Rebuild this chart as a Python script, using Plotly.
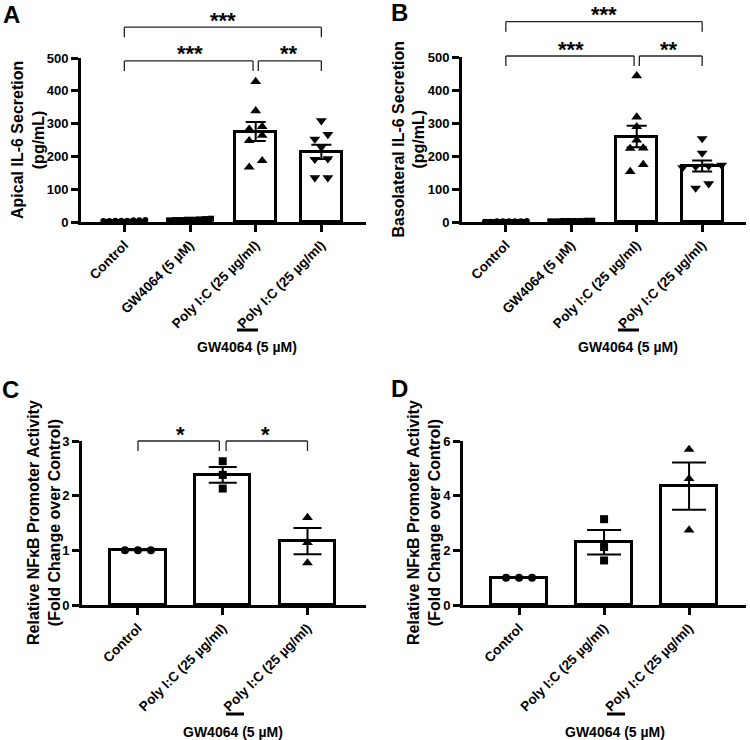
import numpy as np
import plotly.graph_objects as go

W, H = 750, 740
FONT = "Liberation Sans, Arial, Helvetica, sans-serif"

# ---------------- data ----------------
AB_labels = ["Control", "GW4064 (5 µM)", "Poly I:C (25 µg/ml)", "Poly I:C (25 µg/ml)"]
CD_labels = ["Control", "Poly I:C (25 µg/ml)", "Poly I:C (25 µg/ml)"]

A_control = [4, 3, 5, 4, 6, 3, 5, 4]
A_gw = [8, 6, 10, 7, 5, 9, 7, 6]
A_poly = [428, 339, 291, 283, 264, 248, 187, 167]
A_polygw = [309, 267, 253, 228, 193, 191, 135, 135]

B_control = [2, 1, 2, 3, 2, 1, 2, 2]
B_gw = [3, 2, 4, 3, 2, 3, 4, 3]
B_poly = [443, 318, 289, 248, 224, 223, 174, 153]
B_polygw = [253, 209, 172, 170, 168, 165, 116, 103]

C_control = [1.0, 1.0, 1.0]
C_poly = [2.63, 2.38, 2.13]
C_polygw = [1.60, 1.14, 0.77]

D_control = [1.0, 1.0, 1.0]
D_poly = [3.14, 2.12, 1.63]
D_polygw = [5.69, 4.62, 2.74]

A_tests = [(0, 3, "***"), (0, 2, "***"), (2, 3, "**")]
B_tests = [(0, 3, "***"), (0, 2, "***"), (2, 3, "**")]
C_tests = [(0, 1, "*"), (1, 2, "*")]

AB_ticks = [0, 100, 200, 300, 400, 500]
C_ticks = [0, 1, 2, 3]
D_ticks = [0, 2, 4, 6]

# ---------------- layout parameters ----------------
panels = [
    dict(letter="A", letter_xy=(11, 14), groups=[A_control, A_gw, A_poly, A_polygw], labels=AB_labels,
         symbols=["circle", "square", "triangle-up", "triangle-down"], sizes=[6, 6, 9.5, 9.5], steps=[6, 6, 13, 13],
         xpx=(81, 366), ypx=(58, 222), xr=(-0.66, 3.68), ticks=AB_ticks, bar_w=0.63, cap=10,
         title="Apical IL-6 Secretion<br>(pg/mL)", title_x=28,
         tests=A_tests, levels=[594, 491, 491], gwline=(237, 258, 330), gwtext=(247, 347)),
    dict(letter="B", letter_xy=(399, 12), groups=[B_control, B_gw, B_poly, B_polygw], labels=AB_labels,
         symbols=["circle", "square", "triangle-up", "triangle-down"], sizes=[6, 6, 9.5, 9.5], steps=[6, 6, 13, 13],
         xpx=(462, 746), ypx=(57, 222), xr=(-0.67, 3.67), ticks=AB_ticks, bar_w=0.63, cap=10,
         title="Basolateral IL-6 Secretion<br>(pg/mL)", title_x=408,
         tests=B_tests, levels=[607, 503, 503], gwline=(618, 639, 330), gwtext=(628, 347)),
    dict(letter="C", letter_xy=(10, 390), groups=[C_control, C_poly, C_polygw], labels=CD_labels,
         symbols=["circle", "square", "triangle-up"], sizes=[8, 8, 9.5], steps=[13, 13, 13],
         xpx=(82, 366), ypx=(441, 605), xr=(-0.66, 2.69), ticks=C_ticks, bar_w=0.65, cap=14,
         title="Relative NFκB Promoter Activity<br>(Fold Change over Control)", title_x=44,
         tests=C_tests, levels=[3.0, 3.0], gwline=(226, 244, 714), gwtext=(233, 732)),
    dict(letter="D", letter_xy=(399, 389), groups=[D_control, D_poly, D_polygw], labels=CD_labels,
         symbols=["circle", "square", "triangle-up"], sizes=[8, 8, 9.5], steps=[13, 13, 13],
         xpx=(463, 746), ypx=(441, 605), xr=(-0.66, 2.67), ticks=D_ticks, bar_w=0.65, cap=17,
         title="Relative NFκB Promoter Activity<br>(Fold Change over Control)", title_x=424,
         tests=[], levels=[], gwline=(607, 625, 714), gwtext=(615, 732)),
]


def swarm(values, px_per_unit, px_per_cat, step_px, thresh_px=7.5):
    n = len(values)
    order = sorted(range(n), key=lambda i: -values[i])
    rows, cur, ref = [], [order[0]], values[order[0]]
    for i in order[1:]:
        if (ref - values[i]) * px_per_unit < thresh_px:
            cur.append(i)
        else:
            rows.append(cur)
            cur, ref = [i], values[i]
    rows.append(cur)
    off = [0.0] * n
    for row in rows:
        row = sorted(row, key=lambda i: values[i])
        m = len(row)
        for k, i in enumerate(row):
            off[i] = (k - (m - 1) / 2) * step_px / px_per_cat
    return off


fig = go.Figure()
shapes, annotations = [], []
bold = dict(family=FONT, color="black", weight="bold")

for p_i, p in enumerate(panels, start=1):
    xa = "x" if p_i == 1 else f"x{p_i}"
    ya = "y" if p_i == 1 else f"y{p_i}"
    xkey = "xaxis" if p_i == 1 else f"xaxis{p_i}"
    ykey = "yaxis" if p_i == 1 else f"yaxis{p_i}"
    ymax = p["ticks"][-1]
    x0p, x1p = p["xpx"]
    ytp, ybp = p["ypx"]
    px_per_unit = (ybp - ytp) / ymax
    px_per_cat = (x1p - x0p) / (p["xr"][1] - p["xr"][0])

    groups = p["groups"]
    means = [float(np.mean(g)) for g in groups]
    sems = [float(np.std(g, ddof=1) / np.sqrt(len(g))) for g in groups]
    cats = list(range(len(groups)))

    fig.add_trace(go.Bar(
        x=cats, y=means, width=p["bar_w"], xaxis=xa, yaxis=ya,
        marker=dict(color="white", line=dict(color="black", width=3)),
        error_y=dict(type="data", array=sems, visible=True, color="black", thickness=2, width=p["cap"]),
        showlegend=False, hoverinfo="skip"))

    for k, g in enumerate(groups):
        offs = swarm(g, px_per_unit, px_per_cat, p["steps"][k])
        fig.add_trace(go.Scatter(
            x=[k + o for o in offs], y=g, mode="markers", xaxis=xa, yaxis=ya,
            marker=dict(symbol=p["symbols"][k], size=p["sizes"][k], color="black", line=dict(width=0)),
            cliponaxis=False, showlegend=False, hoverinfo="skip"))

    fig.layout[xkey] = dict(
        domain=[x0p / W, x1p / W], range=list(p["xr"]), anchor=ya,
        tickvals=cats, ticktext=p["labels"], tickangle=-45, automargin=False,
        ticks="outside", ticklen=7, tickwidth=3, tickcolor="black",
        showline=True, linewidth=3, linecolor="black", showgrid=False, zeroline=False,
        tickfont=dict(size=13.5, **bold), fixedrange=True)
    fig.layout[ykey] = dict(
        domain=[1 - ybp / H, 1 - ytp / H], range=[0, ymax], anchor=xa, automargin=False,
        tickvals=p["ticks"], ticks="outside", ticklen=7, tickwidth=3, tickcolor="black",
        showline=True, linewidth=3, linecolor="black", showgrid=False, zeroline=False,
        tickfont=dict(size=13, **bold), fixedrange=True)

    # significance brackets
    tip = 10 / (ybp - ytp)
    gap = 0.04
    tests = p["tests"]
    for t_i, (a, b, lab) in enumerate(tests):
        lvl = p["levels"][t_i]
        yb = lvl / ymax
        xa0, xa1 = float(a), float(b)
        for t_j, (c, d, _) in enumerate(tests):
            if t_j == t_i or p["levels"][t_j] != lvl:
                continue
            if d == a:
                xa0 = a + gap
            if c == b:
                xa1 = b - gap
        for (sx0, sy0, sx1, sy1) in [(xa0, yb - tip, xa0, yb), (xa0, yb, xa1, yb), (xa1, yb, xa1, yb - tip)]:
            shapes.append(dict(type="line", xref=xa, yref=f"{ya} domain", x0=sx0, y0=sy0, x1=sx1, y1=sy1,
                               line=dict(color="#222222", width=1.3)))
        annotations.append(dict(x=(a + b) / 2, y=yb, xref=xa, yref=f"{ya} domain", text=lab,
                                showarrow=False, xanchor="center", yanchor="middle", yshift=7,
                                font=dict(size=22, **bold)))

    # axis title
    annotations.append(dict(x=p["title_x"] / W, y=1 - ((ytp + ybp) / 2) / H, xref="paper", yref="paper",
                            text=p["title"], textangle=-90, showarrow=False, xanchor="center", yanchor="middle",
                            font=dict(size=16, **bold)))
    # panel letter
    annotations.append(dict(x=p["letter_xy"][0] / W, y=1 - p["letter_xy"][1] / H, xref="paper", yref="paper",
                            text=p["letter"], showarrow=False, xanchor="center", yanchor="middle",
                            font=dict(size=24, **bold)))
    # GW4064 treatment indicator
    lx0, lx1, ly = p["gwline"]
    shapes.append(dict(type="line", xref="paper", yref="paper", x0=lx0 / W, x1=lx1 / W, y0=1 - ly / H, y1=1 - ly / H,
                       line=dict(color="black", width=3)))
    tx, ty = p["gwtext"]
    annotations.append(dict(x=tx / W, y=1 - ty / H, xref="paper", yref="paper", text="GW4064 (5 µM)",
                            showarrow=False, xanchor="center", yanchor="middle", font=dict(size=14, **bold)))

fig.update_layout(
    width=W, height=H, margin=dict(l=0, r=0, t=0, b=0, autoexpand=False),
    paper_bgcolor="white", plot_bgcolor="white",
    shapes=shapes, annotations=annotations, showlegend=False,
    font=dict(family=FONT, color="black"), bargap=0,
)

fig.write_html("out.html", config={"displayModeBar": False},
               post_script="document.body.style.margin='0';document.body.style.padding='0';"
                           "document.body.style.overflow='hidden';")
